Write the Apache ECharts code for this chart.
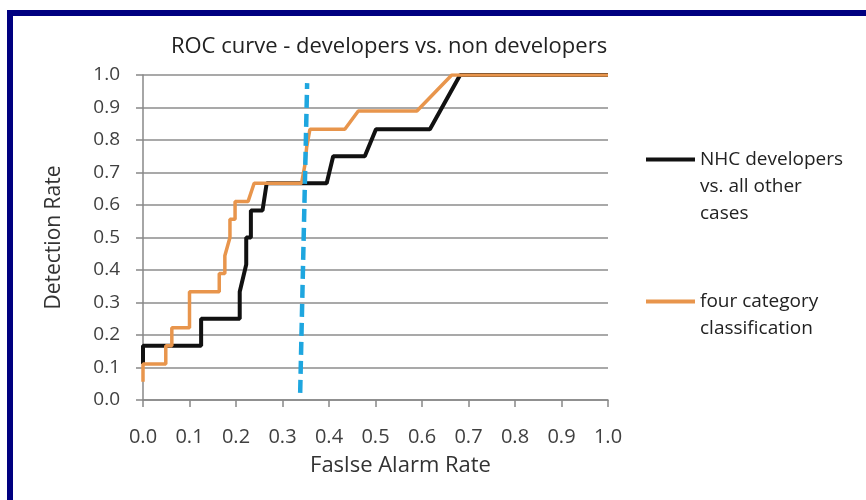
<!DOCTYPE html>
<html>
<head>
<meta charset="utf-8">
<script src="https://cdn.jsdelivr.net/npm/echarts@6/dist/echarts.min.js"></script>
<style>
  html, body { margin: 0; padding: 0; background: #fff; }
  #chart { width: 866px; height: 500px; }
</style>
</head>
<body>
<div id="chart"></div>
<script>
// axis ticks
const ticks = [0, 0.1, 0.2, 0.3, 0.4, 0.5, 0.6, 0.7, 0.8, 0.9, 1.0];

// series names
const nameDev = 'NHC developers vs. all other cases';
const nameFour = 'four category classification';

// [false alarm rate, detection rate]
const devPoints = [
  [0, 0.111], [0, 0.167], [0.125, 0.167], [0.125, 0.25], [0.208, 0.25],
  [0.208, 0.333], [0.222, 0.417], [0.222, 0.5], [0.232, 0.5], [0.232, 0.583],
  [0.257, 0.583], [0.266, 0.667], [0.395, 0.667], [0.409, 0.75], [0.477, 0.75],
  [0.501, 0.833], [0.617, 0.833], [0.682, 1.0], [1.0, 1.0]
];
const fourPoints = [
  [0, 0.056], [0, 0.111], [0.049, 0.111], [0.049, 0.167], [0.062, 0.167],
  [0.062, 0.222], [0.1, 0.222], [0.1, 0.333], [0.164, 0.333], [0.164, 0.389],
  [0.176, 0.389], [0.176, 0.444], [0.187, 0.5], [0.187, 0.556], [0.198, 0.556],
  [0.198, 0.611], [0.226, 0.611], [0.239, 0.667], [0.341, 0.667], [0.348, 0.722],
  [0.352, 0.778], [0.359, 0.833], [0.434, 0.833], [0.463, 0.889], [0.589, 0.889],
  [0.664, 1.0], [1.0, 1.0]
];
// vertical dashed cut-off line
const cutPoints = [[0.338, 0.022], [0.353, 0.975]];

const font = '"Open Sans", Lato, sans-serif';

const chart = echarts.init(document.getElementById('chart'));
const option = {
  animation: false,
  backgroundColor: '#fff',
  title: {
    text: 'ROC curve - developers vs. non developers',
    left: 384, top: 31,
    textAlign: 'center',
    textStyle: { fontFamily: font, fontSize: 22, fontWeight: 'normal', color: '#222' }
  },
  grid: { left: 143, right: 258, top: 75, bottom: 100 },
  legend: {
    orient: 'vertical',
    left: 641, top: 87,
    itemGap: 34,
    itemWidth: 49, itemHeight: 4,
    icon: 'rect',
    textStyle: { fontFamily: font, fontSize: 19, color: '#222', lineHeight: 27 },
    data: [nameDev, nameFour],
    // blank lines in front keep the icon level with the first text line
    formatter: function (n) {
      if (n === nameDev) return '\n\nNHC developers\nvs. all other\ncases';
      return '\nfour category\nclassification';
    }
  },
  graphic: [
    { type: 'rect', shape: { x: 7, y: 10, width: 859, height: 6 }, style: { fill: '#000080' } },
    { type: 'rect', shape: { x: 7, y: 10, width: 6, height: 490 }, style: { fill: '#000080' } }
  ],
  xAxis: {
    type: 'value', min: 0, max: 1, interval: 0.1,
    name: 'Faslse Alarm Rate', nameLocation: 'middle', nameGap: 55,
    nameTextStyle: { fontFamily: font, fontSize: 22, color: '#333', padding: [0, 0, 0, 50] },
    axisLine: { show: true, lineStyle: { color: '#888', width: 1.5 } },
    axisTick: { show: true, length: 7, lineStyle: { color: '#888', width: 1.5 } },
    axisLabel: { margin: 27, fontFamily: font, fontSize: 20, color: '#404040',
      formatter: v => v.toFixed(1) },
    splitLine: { show: false }
  },
  yAxis: {
    type: 'value', min: 0, max: 1, interval: 0.1,
    name: 'Detection Rate', nameLocation: 'middle', nameGap: 78,
    nameTextStyle: { fontFamily: font, fontSize: 21, color: '#333' },
    axisLine: { show: true, lineStyle: { color: '#888', width: 1.5 } },
    axisTick: { show: true, length: 7, lineStyle: { color: '#888', width: 1.5 } },
    axisLabel: { margin: 23, fontFamily: font, fontSize: 19, color: '#404040',
      formatter: v => v.toFixed(1) },
    splitLine: { show: true, lineStyle: { color: '#8c8c8c', width: 1.5 } }
  },
  series: [
    {
      name: nameDev, type: 'line', data: devPoints,
      showSymbol: false, symbol: 'none',
      itemStyle: { color: '#111' },
      lineStyle: { color: '#111', width: 4 }
    },
    {
      name: nameFour, type: 'line', data: fourPoints,
      showSymbol: false, symbol: 'none',
      itemStyle: { color: '#e8954c' },
      lineStyle: { color: '#e8954c', width: 3.5 }
    },
    {
      name: 'cut', type: 'line', data: cutPoints,
      showSymbol: false, symbol: 'none',
      lineStyle: { color: '#1ea6df', width: 4.5, type: [13, 6] }
    }
  ]
};
chart.setOption(option);
</script>
</body>
</html>
